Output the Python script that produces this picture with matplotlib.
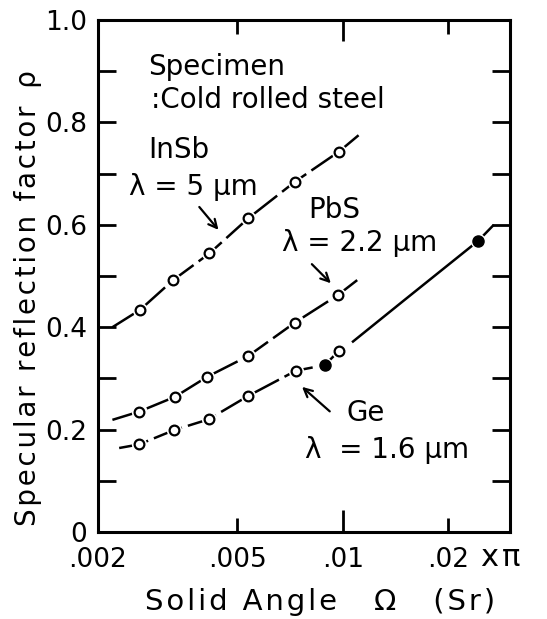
import matplotlib
matplotlib.use('Agg')
import matplotlib.pyplot as plt
from matplotlib.ticker import NullLocator

plt.rcParams['font.family'] = ['DejaVu Sans']

# measured points (solid angle in units of pi, reflection factor)
insb_x = [0.00264, 0.00328, 0.00416, 0.00538, 0.0073, 0.00976]
insb_y = [0.434, 0.492, 0.544, 0.613, 0.684, 0.743]
pbs_x = [0.00262, 0.00332, 0.0041, 0.00538, 0.0073, 0.0097]
pbs_y = [0.235, 0.264, 0.303, 0.344, 0.409, 0.463]
ge_x = [0.00262, 0.0033, 0.00414, 0.00538, 0.00735, 0.00976]
ge_y = [0.171, 0.199, 0.220, 0.266, 0.315, 0.354]
ge_fill_x = [0.00889, 0.0244]
ge_fill_y = [0.326, 0.569]

# fitted curves drawn through the points
insb_cx = [0.0022, 0.00264, 0.00328, 0.00416, 0.00538, 0.0073, 0.00976, 0.0111]
insb_cy = [0.400, 0.434, 0.492, 0.544, 0.613, 0.684, 0.743, 0.775]
pbs_cx = [0.0022, 0.00262, 0.00332, 0.0041, 0.00538, 0.0073, 0.0097, 0.011]
pbs_cy = [0.219, 0.235, 0.264, 0.303, 0.344, 0.409, 0.463, 0.492]
ge_cx = [0.0023, 0.00262, 0.0033, 0.00414, 0.00538, 0.00735, 0.00889, 0.00976]
ge_cy = [0.164, 0.171, 0.199, 0.220, 0.266, 0.315, 0.326, 0.354]
ge_tail_x = [0.0107, 0.015, 0.0244]
ge_tail_y = [0.372, 0.453, 0.569]
ge_end_x = [0.0244, 0.027]
ge_end_y = [0.569, 0.600]

xticks = [0.002, 0.005, 0.01, 0.02]
xticklabels = ['.002', '.005', '.01', '.02']
yticks = [0, 0.2, 0.4, 0.6, 0.8, 1.0]
yticklabels = ['0', '0.2', '0.4', '0.6', '0.8', '1.0']


def spaced(s):
    # the original lettering is widely spaced
    return '\u200a'.join(s)


fig = plt.figure(figsize=(5.47, 6.19), dpi=100)
ax = fig.add_axes([0.179, 0.1406, 0.753, 0.827])
ax.set_xscale('log')
ax.set_xlim(0.002, 0.03)
ax.set_ylim(0, 1.0)

dash = (0, (12, 2.5))
for cx, cy in [(insb_cx, insb_cy), (pbs_cx, pbs_cy), (ge_cx, ge_cy), (ge_end_x, ge_end_y)]:
    ax.plot(cx, cy, color='black', lw=1.8, linestyle=dash)
ax.plot(ge_tail_x, ge_tail_y, color='black', lw=1.8)

# white halo so the lines break around the markers
for px, py in [(insb_x, insb_y), (pbs_x, pbs_y), (ge_x, ge_y), (ge_fill_x, ge_fill_y)]:
    ax.plot(px, py, 'o', ms=11, mfc='white', mec='none', zorder=3)
for px, py in [(insb_x, insb_y), (pbs_x, pbs_y), (ge_x, ge_y)]:
    ax.plot(px, py, 'o', ms=7, mfc='white', mec='black', mew=1.6, zorder=4)
ax.plot(ge_fill_x, ge_fill_y, 'o', ms=8, mfc='black', mec='black', zorder=4)

# ticks
ax.set_xticks(xticks)
ax.set_xticklabels(xticklabels)
ax.xaxis.set_minor_locator(NullLocator())
ax.set_yticks(yticks)
ax.set_yticklabels(yticklabels)
ax.set_yticks([0.1, 0.3, 0.5, 0.7, 0.9], minor=True)
ax.tick_params(axis='both', which='both', direction='in', top=True, right=True,
               width=2, labelsize=19)
ax.tick_params(axis='y', which='both', length=13, pad=8)
ax.tick_params(axis='x', which='major', length=10, pad=11)
for t, v in zip(ax.xaxis.get_major_ticks(), xticks):
    if v == 0.01:
        t.tick1line.set_markersize(16)
        t.tick2line.set_markersize(15)
    if v == 0.002:
        t.tick1line.set_visible(False)
        t.tick2line.set_visible(False)
for s in ax.spines.values():
    s.set_linewidth(2.2)

ax.text(0.978, -0.05, 'x\u200a\u03c0', transform=ax.transAxes, fontsize=22,
        ha='center', va='center')
fig.text(320 / 547, 1 - 602 / 619, spaced('Solid Angle') + '    \u03a9    ' + spaced('(Sr)'),
         fontsize=21, ha='center', va='center')
fig.text(28 / 547, 1 - 298 / 619, spaced('Specular reflection factor') + '  \u03c1',
         fontsize=20, rotation=90, ha='center', va='center')

# annotations
fs = 20
ax.text(0.00279, 0.908, 'Specimen', fontsize=fs, ha='left', va='center')
ax.text(0.00283, 0.844, ':Cold rolled steel', fontsize=fs, ha='left', va='center')
ax.text(0.00279, 0.746, 'InSb', fontsize=fs, ha='left', va='center')
ax.text(0.00245, 0.674, '\u03bb = 5 \u03bcm', fontsize=fs, ha='left', va='center')
ax.text(0.00795, 0.629, 'PbS', fontsize=fs, ha='left', va='center')
ax.text(0.00671, 0.564, '\u03bb = 2.2 \u03bcm', fontsize=fs, ha='left', va='center')
ax.text(0.01026, 0.232, 'Ge', fontsize=fs, ha='left', va='center')
ax.text(0.0078, 0.160, '\u03bb  = 1.6 \u03bcm', fontsize=fs, ha='left', va='center')

arrow = dict(arrowstyle='->,head_length=0.6,head_width=0.3', color='black', lw=1.6)
ax.annotate('', xy=(0.00447, 0.586), xytext=(0.00385, 0.639), arrowprops=arrow)
ax.annotate('', xy=(0.00937, 0.482), xytext=(0.00806, 0.527), arrowprops=arrow)
ax.annotate('', xy=(0.00755, 0.287), xytext=(0.00931, 0.232), arrowprops=arrow)

fig.savefig('out.png', dpi=100, facecolor='white')
